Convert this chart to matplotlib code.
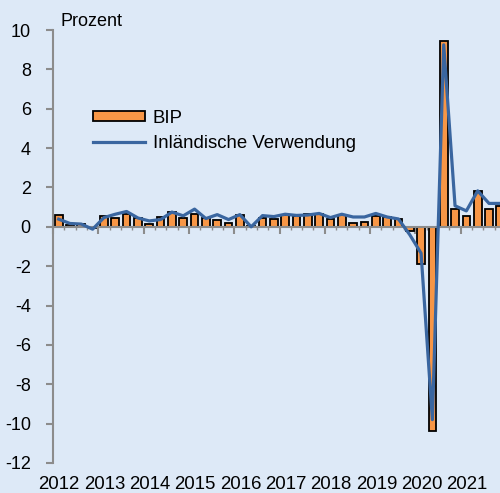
import numpy as np
import matplotlib
matplotlib.use('Agg')
import matplotlib.pyplot as plt
from matplotlib.patches import Patch
from matplotlib.lines import Line2D

plt.rcParams['font.family'] = ['Liberation Sans', 'DejaVu Sans']
plt.rcParams['axes.unicode_minus'] = False

# Quarterly data 2012 Q1 .. 2021 Q4 (change vs. previous quarter, %)
years = ['2012', '2013', '2014', '2015', '2016', '2017', '2018', '2019', '2020', '2021']
bip = [0.6, 0.1, 0.15, -0.05, 0.57, 0.43, 0.66, 0.47,
       0.14, 0.48, 0.77, 0.44, 0.64, 0.47, 0.33, 0.2,
       0.61, 0.05, 0.44, 0.4, 0.58, 0.56, 0.65, 0.67,
       0.39, 0.58, 0.19, 0.23, 0.55, 0.48, 0.42, -0.2,
       -1.88, -10.4, 9.45, 0.9, 0.53, 1.82, 0.91, 1.05]
inland = [0.39, 0.17, 0.14, -0.12, 0.47, 0.64, 0.78, 0.45,
          0.3, 0.37, 0.75, 0.56, 0.9, 0.42, 0.62, 0.37,
          0.62, 0.0, 0.57, 0.52, 0.64, 0.58, 0.6, 0.68,
          0.47, 0.64, 0.5, 0.5, 0.68, 0.5, 0.4, -0.4,
          -1.34, -9.8, 9.25, 1.07, 0.81, 1.83, 1.19, 1.19]

bg = '#dde9f7'
grey = '#8c8c8c'
orange = '#f79646'
blue = '#3a66a0'

fig = plt.figure(figsize=(5.0, 4.93), dpi=100, facecolor=bg)
ax = fig.add_axes([0.106, 0.061, 0.906, 0.878], facecolor=bg)

x = np.arange(len(bip)) + 0.5
ax.bar(x, bip, width=0.68, color=orange, edgecolor='black', linewidth=1.3, zorder=2)
ax.plot(x, inland, color=blue, linewidth=2.3, zorder=3)

ax.set_xlim(0, 40)
ax.set_ylim(-12, 10)

for s in ['top', 'right']:
    ax.spines[s].set_visible(False)
ax.spines['left'].set_color(grey)
ax.spines['left'].set_linewidth(1.5)
ax.spines['bottom'].set_position(('data', 0))
ax.spines['bottom'].set_color(grey)
ax.spines['bottom'].set_linewidth(1.5)
ax.set_zorder(1)

ax.set_yticks(np.arange(-12, 11, 2))
ax.tick_params(axis='y', direction='out', length=5, width=1.5, color=grey,
               labelsize=13, pad=11)
ax.set_xticks(np.arange(0, 41, 4))
ax.set_xticks(np.arange(0, 41, 1), minor=True)
ax.tick_params(axis='x', which='major', direction='out', length=5, width=1.5,
               color=grey, labelbottom=False)
ax.tick_params(axis='x', which='minor', direction='out', length=2.5, width=1,
               color=grey)

for k, yr in enumerate(years):
    ax.text(4 * k + 0.55, -0.049, yr, transform=ax.get_xaxis_transform(),
            ha='center', va='center', fontsize=13.4)

fig.text(0.12, 1 - 21 / 493, 'Prozent', ha='left', va='center', fontsize=13)

handles = [Patch(facecolor=orange, edgecolor='black', linewidth=1.3),
           Line2D([0], [0], color=blue, linewidth=2.3)]
fig.legend(handles, ['BIP', 'Inländische Verwendung'], loc='upper left',
           bbox_to_anchor=(93 / 500, 1 - 110 / 493), frameon=False,
           fontsize=13.4, handlelength=2.8, handleheight=0.45,
           handletextpad=0.4, labelspacing=0.42, borderpad=0, borderaxespad=0)

fig.savefig('out.png', dpi=100, facecolor=bg)
